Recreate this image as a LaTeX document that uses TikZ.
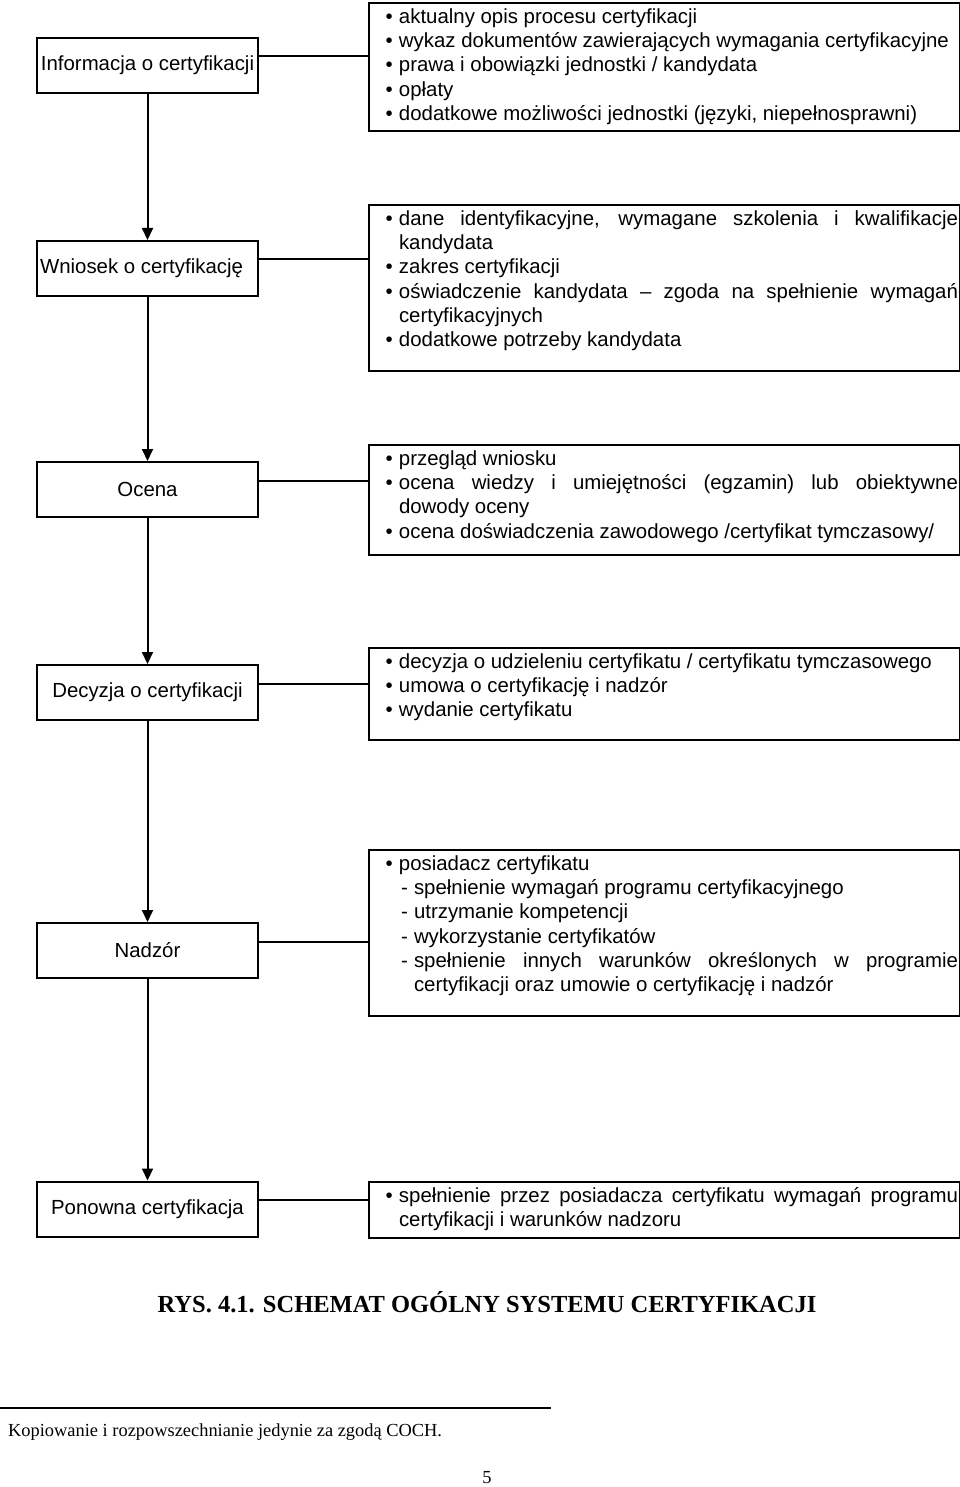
\documentclass[tikz,border=0pt]{standalone}
\usepackage{fontspec}
\setmainfont{Liberation Sans}
\newfontfamily\timesfont{Liberation Serif}
\usetikzlibrary{arrows.meta}

\newcommand\bulitem[1]{\par\noindent\hangindent=13.5pt\hangafter=1\strut\makebox[13.5pt][l]{\textbullet}#1}
\newcommand\dashitem[1]{\par\noindent\hangindent=28.5pt\hangafter=1\strut\hspace*{15.5pt}\makebox[13pt][l]{-}#1}
\newcommand\rtext[2]{\hspace*{16.5pt}\parbox[c][#1][t]{572.5pt}{\tolerance=9999\hyphenpenalty=10000\vspace*{3.5pt}#2\par}\hspace*{2pt}}

\tikzset{
  lbox/.style={draw, line width=2pt, minimum width=221pt, minimum height=55pt, inner sep=0pt, font=\fontsize{20.4}{24.2}\selectfont},
  rbox/.style={draw, line width=2pt, inner sep=0pt, anchor=north west, font=\fontsize{20.4}{24.2}\selectfont},
  arr/.style={line width=2pt, -{Triangle[length=12pt,width=11pt]}},
  link/.style={line width=2pt}
}

\begin{document}
\begin{tikzpicture}[x=1pt,y=-1pt]
\useasboundingbox (0,0) rectangle (960,1487);
\node[lbox](info) at (147.5,65.5) {Informacja o certyfikacji};
\node[lbox](wniosek) at (147.5,268.5) {\hspace*{-12pt}Wniosek o certyfikację};
\node[lbox](ocena) at (147.5,489.5) {Ocena};
\node[lbox](decyzja) at (147.5,692.5) {Decyzja o certyfikacji};
\node[lbox](nadzor) at (147.5,950.5) {Nadzór};
\node[lbox](ponowna) at (147.5,1209) {Ponowna certyfikacja};
%
\node[rbox](info-r) at (368,2) {\rtext{128pt}{%
\bulitem{aktualny opis procesu certyfikacji}
\bulitem{wykaz dokumentów zawierających wymagania certyfikacyjne}
\bulitem{prawa i obowiązki jednostki / kandydata}
\bulitem{opłaty}
\bulitem{dodatkowe możliwości jednostki (języki, niepełnosprawni)}}};
\node[rbox](wniosek-r) at (368,204) {\rtext{166pt}{%
\bulitem{dane identyfikacyjne, wymagane szkolenia i kwalifikacje\linebreak kandydata}
\bulitem{zakres certyfikacji}
\bulitem{oświadczenie kandydata – zgoda na spełnienie wymagań\linebreak certyfikacyjnych}
\bulitem{dodatkowe potrzeby kandydata}}};
\node[rbox](ocena-r) at (368,444) {\rtext{110pt}{%
\bulitem{przegląd wniosku}
\bulitem{ocena wiedzy i umiejętności (egzamin) lub obiektywne\linebreak dowody oceny}
\bulitem{ocena doświadczenia zawodowego /certyfikat tymczasowy/}}};
\node[rbox](decyzja-r) at (368,647) {\rtext{92pt}{%
\bulitem{decyzja o udzieleniu certyfikatu / certyfikatu tymczasowego}
\bulitem{umowa o certyfikację i nadzór}
\bulitem{wydanie certyfikatu}}};
\node[rbox](nadzor-r) at (368,849) {\rtext{166pt}{%
\bulitem{posiadacz certyfikatu}
\dashitem{spełnienie wymagań programu certyfikacyjnego}
\dashitem{utrzymanie kompetencji}
\dashitem{wykorzystanie certyfikatów}
\dashitem{spełnienie innych warunków określonych w programie\linebreak certyfikacji oraz umowie o certyfikację i nadzór}}};
\node[rbox](ponowna-r) at (368,1181) {\rtext{56pt}{%
\bulitem{spełnienie przez posiadacza certyfikatu wymagań programu\linebreak certyfikacji i warunków nadzoru}}};
%
\draw[arr](info) -- (wniosek);
\draw[arr](wniosek) -- (ocena);
\draw[arr](ocena) -- (decyzja);
\draw[arr](decyzja) -- (nadzor);
\draw[arr](nadzor) -- (ponowna);
%
\coordinate(info-c) at ([yshift=9pt]info.east);
\coordinate(wniosek-c) at ([yshift=9pt]wniosek.east);
\coordinate(ocena-c) at ([yshift=9pt]ocena.east);
\coordinate(decyzja-c) at ([yshift=9pt]decyzja.east);
\coordinate(nadzor-c) at ([yshift=9pt]nadzor.east);
\coordinate(ponowna-c) at ([yshift=9pt]ponowna.east);
\draw[link](info-c) -- (info-c -| info-r.west);
\draw[link](wniosek-c) -- (wniosek-c -| wniosek-r.west);
\draw[link](ocena-c) -- (ocena-c -| ocena-r.west);
\draw[link](decyzja-c) -- (decyzja-c -| decyzja-r.west);
\draw[link](nadzor-c) -- (nadzor-c -| nadzor-r.west);
\draw[link](ponowna-c) -- (ponowna-c -| ponowna-r.west);
%
\node(title) at (487,1302) {\timesfont\bfseries\fontsize{24.5}{29}\selectfont RYS. 4.1. SCHEMAT OGÓLNY SYSTEMU CERTYFIKACJI};
\coordinate(foot-l) at (0,1408);
\coordinate(foot-r) at (551,1408);
\draw[line width=1.4pt](foot-l) -- (foot-r);
\node[anchor=west, inner sep=0pt](foot-text) at (8,1432) {\timesfont\fontsize{18.4}{22}\selectfont Kopiowanie i rozpowszechnianie jedynie za zgodą COCH.};
\node(page-no) at (487,1478) {\timesfont\fontsize{18.4}{22}\selectfont 5};
\end{tikzpicture}
\end{document}
